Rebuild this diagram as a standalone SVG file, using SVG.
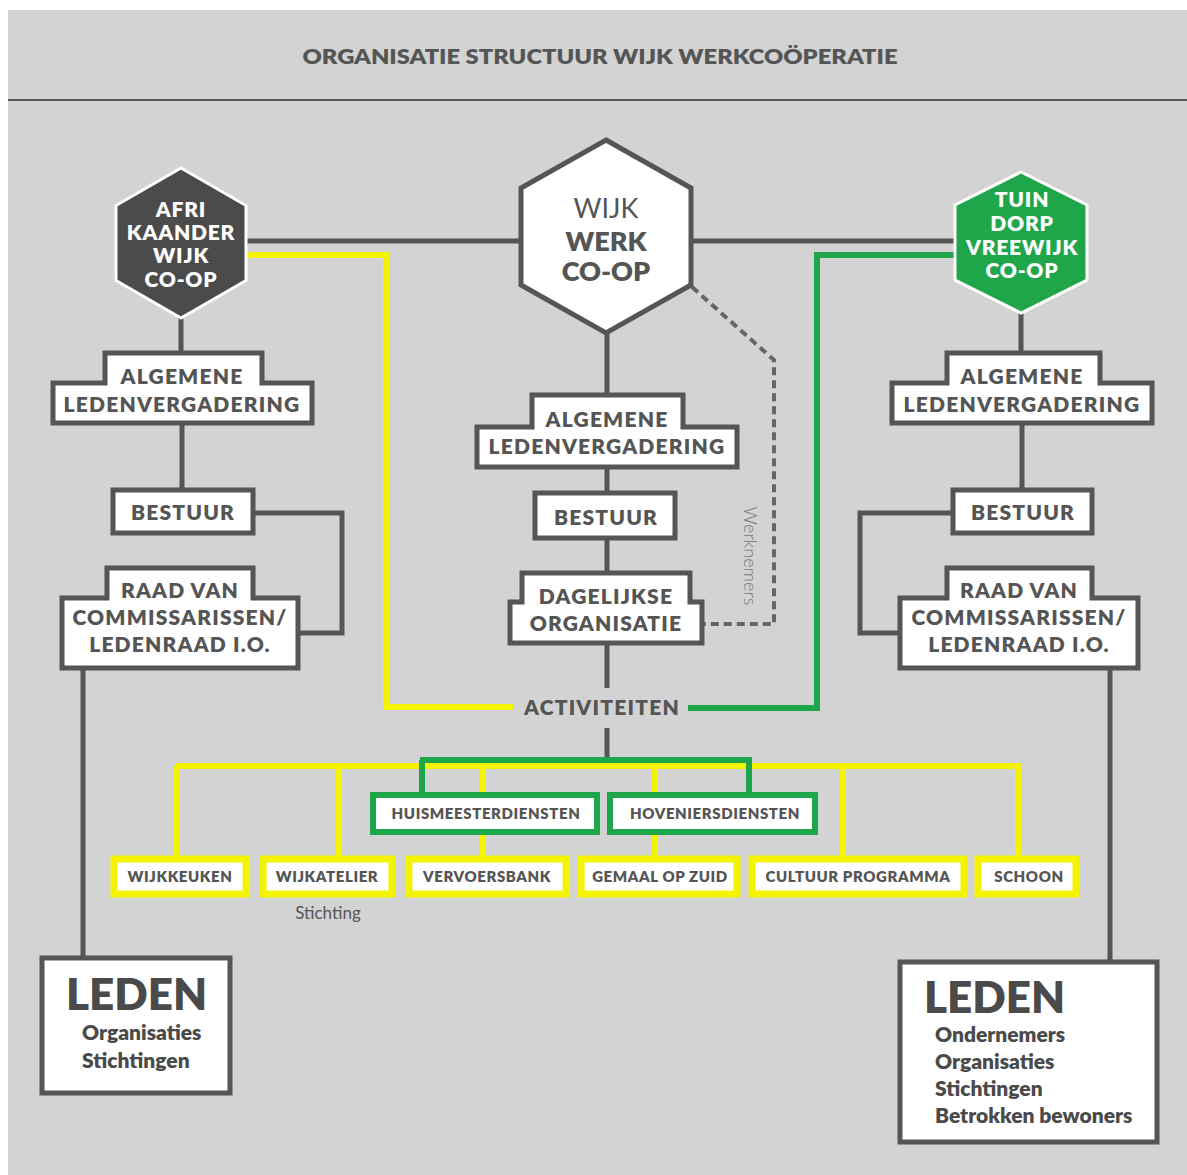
<svg xmlns="http://www.w3.org/2000/svg" width="1187" height="1175" viewBox="0 0 1187 1175">
<style>
.bg{fill:#d2d3d2}
.box{fill:#fff;stroke:#555;stroke-width:5}
.ybox{fill:#fff;stroke:#f4f400;stroke-width:7}
.gbox{fill:#fff;stroke:#1fa64a;stroke-width:6}
.t{font-family:Lato,"Liberation Sans",sans-serif;font-weight:800;fill:#555;text-anchor:middle}
.tw{font-family:Lato,"Liberation Sans",sans-serif;font-weight:800;fill:#fff;text-anchor:middle;font-size:21px;letter-spacing:0.8px}
.tb{font-size:21px;letter-spacing:1.2px}
.ts{font-size:15px;letter-spacing:0.6px}
.tl{font-family:Lato,"Liberation Sans",sans-serif;font-weight:800;fill:#4a4a4a}
.dk{fill:none;stroke:#555;stroke-width:5}
.yl{fill:none;stroke:#f4f400;stroke-width:6}
.gr{fill:none;stroke:#1fa64a;stroke-width:6}
.ds{fill:none;stroke:#666;stroke-width:4;stroke-dasharray:8 5}
</style>
<rect x="0" y="0" width="1187" height="1175" fill="#fff"/>
<rect class="bg" x="8" y="10" width="1179" height="1165"/>
<line x1="8" y1="100" x2="1187" y2="100" stroke="#555" stroke-width="2"/>
<text class="t" x="600" y="64" font-size="21" textLength="595" lengthAdjust="spacingAndGlyphs">ORGANISATIE STRUCTUUR WIJK WERKCOÖPERATIE</text>

<g id="connectors">
  <path class="dk" d="M247,241 H521 M691,241 H955"/>
  <path class="yl" d="M247,255 H386 V707 H513"/>
  <path class="gr" d="M955,255 H817 V708 H688"/>
  <path class="ds" d="M692,287 L774,360 V624 H703"/>
  <path class="dk" d="M607,333 V395 M607,467 V493 M607,538 V573 M607,643 V688 M607,728 V760"/>
  <path class="dk" d="M181,318 V353 M182,423 V490 M253,513 H342 V633 H298 M83,668 V958"/>
  <path class="dk" d="M1021,313 V353 M1022,423 V490 M953,513 H860 V633 H900 M1110,668 V962"/>
  <path class="yl" d="M175,766 H1021 M177,766 V858 M339,766 V858 M483,766 V858 M655,766 V858 M843,766 V858 M1018,766 V858"/>
  <path class="gr" d="M420,760 H752 M422,760 V795 M749,760 V795"/>
</g>

<g id="hex-afrikaander">
  <polygon points="181,168 246,205.5 246,280.5 181,318 116,280.5 116,205.5" fill="#4b4b4b" stroke="#fff" stroke-width="3"/>
  <text class="tw" x="181" y="217">AFRI</text>
  <text class="tw" x="181" y="240">KAANDER</text>
  <text class="tw" x="181" y="263">WIJK</text>
  <text class="tw" x="181" y="287">CO-OP</text>
</g>
<g id="hex-wijkwerk">
  <polygon points="606,140 691,188 691,285 606,333 521,285 521,188" fill="#fff" stroke="#555" stroke-width="5"/>
  <text class="t" x="606" y="218" font-size="27" style="font-weight:400">WIJK</text>
  <text class="t" x="606" y="251" font-size="27">WERK</text>
  <text class="t" x="606" y="281" font-size="27">CO-OP</text>
</g>
<g id="hex-tuindorp">
  <polygon points="1021,172 1087,205 1087,280 1021,313 955,280 955,205" fill="#1fa64a" stroke="#fff" stroke-width="3"/>
  <text class="tw" x="1022" y="207">TUIN</text>
  <text class="tw" x="1022" y="231">DORP</text>
  <text class="tw" x="1022" y="255">VREEWIJK</text>
  <text class="tw" x="1022" y="278">CO-OP</text>
</g>

<g id="alv-left">
  <path class="box" d="M105,353 H262 V383 H312 V423 H53 V383 H105 Z"/>
  <text class="t tb" x="182" y="384">ALGEMENE</text>
  <text class="t tb" x="182" y="412">LEDENVERGADERING</text>
</g>
<g id="bestuur-left">
  <rect class="box" x="113" y="490" width="140" height="43"/>
  <text class="t tb" x="183" y="520">BESTUUR</text>
</g>
<g id="raad-left">
  <path class="box" d="M107,568 H253 V598 H298 V668 H62 V598 H107 Z"/>
  <text class="t tb" x="180" y="598">RAAD VAN</text>
  <text class="t tb" x="180" y="625">COMMISSARISSEN/</text>
  <text class="t tb" x="180" y="652">LEDENRAAD I.O.</text>
</g>
<g id="leden-left">
  <rect class="box" x="42" y="958" width="188" height="135"/>
  <text class="tl" x="66" y="1010" font-size="44">LEDEN</text>
  <text class="tl" x="82" y="1040" font-size="21">Organisaties</text>
  <text class="tl" x="82" y="1068" font-size="21">Stichtingen</text>
</g>

<g id="alv-center">
  <path class="box" d="M532,395 H683 V427 H737 V467 H477 V427 H532 Z"/>
  <text class="t tb" x="607" y="427">ALGEMENE</text>
  <text class="t tb" x="607" y="454">LEDENVERGADERING</text>
</g>
<g id="bestuur-center">
  <rect class="box" x="535" y="493" width="140" height="45"/>
  <text class="t tb" x="606" y="525">BESTUUR</text>
</g>
<g id="dagelijkse">
  <path class="box" d="M522,573 H690 V602 H702 V643 H510 V602 H522 Z"/>
  <text class="t tb" x="606" y="604">DAGELIJKSE</text>
  <text class="t tb" x="606" y="631">ORGANISATIE</text>
</g>
<g id="werknemers">
  <text transform="translate(744,556) rotate(90)" font-family="Lato,'Liberation Sans',sans-serif" font-size="18" font-weight="300" fill="#777" text-anchor="middle">Werknemers</text>
</g>
<g id="activiteiten">
  <text class="t tb" x="602" y="715">ACTIVITEITEN</text>
</g>

<g id="alv-right">
  <path class="box" d="M947,353 H1100 V383 H1152 V423 H892 V383 H947 Z"/>
  <text class="t tb" x="1022" y="384">ALGEMENE</text>
  <text class="t tb" x="1022" y="412">LEDENVERGADERING</text>
</g>
<g id="bestuur-right">
  <rect class="box" x="953" y="490" width="139" height="43"/>
  <text class="t tb" x="1023" y="520">BESTUUR</text>
</g>
<g id="raad-right">
  <path class="box" d="M947,568 H1092 V598 H1138 V668 H900 V598 H947 Z"/>
  <text class="t tb" x="1019" y="598">RAAD VAN</text>
  <text class="t tb" x="1019" y="625">COMMISSARISSEN/</text>
  <text class="t tb" x="1019" y="652">LEDENRAAD I.O.</text>
</g>
<g id="leden-right">
  <rect class="box" x="900" y="962" width="257" height="180"/>
  <text class="tl" x="924" y="1013" font-size="44">LEDEN</text>
  <text class="tl" x="935" y="1042" font-size="21">Ondernemers</text>
  <text class="tl" x="935" y="1069" font-size="21">Organisaties</text>
  <text class="tl" x="935" y="1096" font-size="21">Stichtingen</text>
  <text class="tl" x="935" y="1123" font-size="21">Betrokken bewoners</text>
</g>

<g id="huismeester">
  <rect class="gbox" x="373" y="795" width="224" height="37"/>
  <text class="t ts" x="486" y="819">HUISMEESTERDIENSTEN</text>
</g>
<g id="hoveniers">
  <rect class="gbox" x="610" y="795" width="205" height="37"/>
  <text class="t ts" x="715" y="819">HOVENIERSDIENSTEN</text>
</g>

<g id="wijkkeuken">
  <rect class="ybox" x="114" y="859" width="132" height="35"/>
  <text class="t ts" x="180" y="882">WIJKKEUKEN</text>
</g>
<g id="wijkatelier">
  <rect class="ybox" x="263" y="859" width="129" height="35"/>
  <text class="t ts" x="327" y="882">WIJKATELIER</text>
  <text x="328" y="919" font-family="Lato,'Liberation Sans',sans-serif" font-size="17" fill="#555" text-anchor="middle">Stichting</text>
</g>
<g id="vervoersbank">
  <rect class="ybox" x="409" y="859" width="157" height="35"/>
  <text class="t ts" x="487" y="882">VERVOERSBANK</text>
</g>
<g id="gemaal">
  <rect class="ybox" x="581" y="859" width="156" height="35"/>
  <text class="t ts" x="660" y="882">GEMAAL OP ZUID</text>
</g>
<g id="cultuur">
  <rect class="ybox" x="752" y="859" width="212" height="35"/>
  <text class="t ts" x="858" y="882">CULTUUR PROGRAMMA</text>
</g>
<g id="schoon">
  <rect class="ybox" x="978" y="859" width="98" height="35"/>
  <text class="t ts" x="1029" y="882">SCHOON</text>
</g>
</svg>
